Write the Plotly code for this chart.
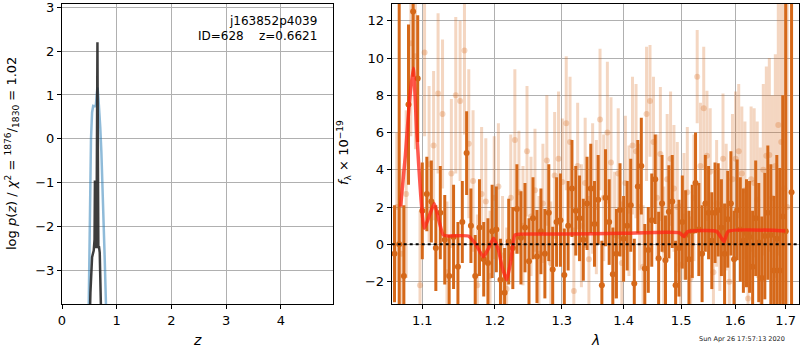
import plotly.graph_objects as go

# ---------------- left panel: log p(z) ----------------
pz_blue_z = [0.47, 0.49, 0.51, 0.53, 0.55, 0.57, 0.60, 0.62, 0.635, 0.65, 0.665, 0.68, 0.70, 0.72, 0.74, 0.76, 0.78, 0.80, 0.83]
pz_blue_y = [-5.5, -3.8, -1.4, 0.0, 0.6, 0.75, 0.74, 0.78, 1.0, 1.17, 0.95, 0.7, 0.25, -0.3, -1.0, -1.8, -2.7, -3.6, -5.2]

pz_black_z = [0.49, 0.52, 0.55, 0.58, 0.595, 0.602, 0.61, 0.62, 0.63, 0.64, 0.648, 0.656, 0.665, 0.675, 0.69, 0.71, 0.73, 0.75]
pz_black_y = [-5.0, -3.5, -2.7, -2.55, -2.3, -0.95, -2.4, -1.5, -2.5, -0.5, 2.2, -0.3, -2.5, -2.45, -2.6, -3.3, -4.5, -6.0]

# ---------------- right panel: spectrum ----------------
dark_wave = [
    1.064, 1.070, 1.076, 1.082, 1.088, 1.094, 1.100, 1.106, 1.112, 1.118,
    1.124, 1.130, 1.136, 1.142, 1.148, 1.154, 1.160, 1.166, 1.172, 1.178,
    1.184, 1.190, 1.196, 1.202, 1.208, 1.214, 1.220, 1.226, 1.232, 1.238,
    1.244, 1.250, 1.256, 1.262, 1.268, 1.274, 1.280, 1.286, 1.292, 1.298,
    1.304, 1.310, 1.316, 1.322, 1.328, 1.334, 1.340, 1.346, 1.352, 1.358,
    1.364, 1.370, 1.376, 1.382, 1.388, 1.394, 1.400, 1.406, 1.412, 1.418,
    1.424, 1.430, 1.436, 1.442, 1.448, 1.454, 1.460, 1.466, 1.472, 1.478,
    1.484, 1.490, 1.496, 1.502, 1.508, 1.514, 1.520, 1.526, 1.532, 1.538,
    1.544, 1.550, 1.556, 1.562, 1.568, 1.574, 1.580, 1.586, 1.592, 1.598,
    1.604, 1.610, 1.616, 1.622, 1.628, 1.634, 1.640, 1.646, 1.652, 1.658,
    1.664, 1.670, 1.676, 1.682, 1.688, 1.694, 1.700, 1.712]
dark_flux = [
    -0.5, 0.0, -1.7, 7.5, 12.5, 8.9, 1.8, 2.7, 2.3, -0.2,
    1.7, 0.25, -1.7, 0.4, -1.2, 1.2, 4.9, 1.0, -1.7, 0.9,
    -0.8, -1.0, 0.7, 0.8, -1.9, -2.6, 0.15, -0.2, 1.9, 0.35,
    0.9, -0.9, 1.4, -0.65, 0.7, -0.5, 1.7, -1.35, 1.2, 1.3,
    -1.65, 1.0, 3.0, 1.8, 1.4, 0.25, 2.2, 3.0, 1.1, 2.4,
    -2.2, 2.5, 1.2, -1.6, -0.5, 1.85, 0.3, 1.0, 2.1, -2.1,
    3.1, 4.2, -1.3, -0.3, 1.3, 3.5, -0.75, 2.2, -0.85, 1.75,
    2.3, -2.2, -0.2, 1.2, 0.5, -0.8, 0.7, 3.3, 0.8, -0.5,
    2.2, 1.7, 0.2, 1.7, 1.85, 0.9, -0.5, 1.35, 2.2, -0.8,
    1.85, 0.8, 0.2, 0.6, 0.4, -1.2, 1.4, 0.1, -1.8, 0.45,
    1.7, 0.5, -1.4, 0.3, -1.4, 1.5, 0.7, 2.8]
dark_err = [
    2.6, 20, 3.8, 4.3, 3.5, 3.4, 2.6, 2.0, 2.2, 2.3,
    2.5, 2.4, 2.2, 2.8, 2.4, 2.2, 2.25, 2.0, 2.2, 2.6,
    2.0, 2.4, 2.5, 2.3, 2.2, 2.4, 2.3, 2.2, 2.4, 2.5,
    2.4, 2.3, 2.2, 2.5, 2.3, 2.4, 2.6, 2.3, 2.4, 2.5,
    2.5, 2.4, 2.6, 2.4, 2.3, 2.2, 2.5, 2.4, 2.3, 2.4,
    2.4, 2.6, 2.3, 2.5, 2.4, 2.5, 2.3, 2.4, 2.5, 2.4,
    2.5, 2.6, 2.4, 2.3, 2.5, 2.4, 2.5, 2.6, 2.4, 2.5,
    2.5, 2.4, 2.6, 2.5, 2.4, 2.6, 2.5, 2.7, 2.5, 2.6,
    2.6, 2.5, 2.6, 2.7, 2.5, 2.6, 2.7, 2.6, 2.8, 2.6,
    2.7, 2.8, 2.8, 2.9, 3.0, 3.0, 3.1, 3.2, 3.3, 3.4,
    3.6, 3.8, 4.0, 4.5, 5.5, 6.5, 20, 20]

light_wave = [
    1.067, 1.073, 1.079, 1.085, 1.091, 1.097, 1.103, 1.109, 1.115, 1.121,
    1.127, 1.133, 1.139, 1.145, 1.151, 1.157, 1.163, 1.169, 1.175, 1.181,
    1.187, 1.193, 1.199, 1.205, 1.211, 1.217, 1.223, 1.229, 1.235, 1.241,
    1.247, 1.253, 1.259, 1.265, 1.271, 1.277, 1.283, 1.289, 1.295, 1.301,
    1.307, 1.313, 1.319, 1.325, 1.331, 1.337, 1.343, 1.349, 1.355, 1.361,
    1.367, 1.373, 1.379, 1.385, 1.391, 1.397, 1.403, 1.409, 1.415, 1.421,
    1.427, 1.433, 1.439, 1.445, 1.451, 1.457, 1.463, 1.469, 1.475, 1.481,
    1.487, 1.493, 1.499, 1.505, 1.511, 1.517, 1.523, 1.529, 1.535, 1.541,
    1.547, 1.553, 1.559, 1.565, 1.571, 1.577, 1.583, 1.589, 1.595, 1.601,
    1.607, 1.613, 1.619, 1.625, 1.631, 1.637, 1.643, 1.649, 1.655, 1.661,
    1.667, 1.673, 1.679, 1.685, 1.691, 1.697, 1.703]
light_flux = [
    2.0, -0.5, 2.7, 10.8, 10.1, -2.2, 10.3, 4.3, 5.3, 8.1,
    7.0, -1.5, 3.8, 8.0, 7.7, 10.4, 5.4, 3.4, -2.2, 2.7,
    2.3, -1.7, 2.5, 3.1, -0.6, -2.4, 2.5, 5.6, 2.8, 1.0,
    5.0, 1.5, 2.9, -0.5, 2.2, 4.5, -1.0, 3.7, 4.6, 3.35,
    6.5, 5.5, -2.5, 4.2, 1.0, 3.3, -0.8, 3.0, 2.0, 6.7,
    2.5, 6.0, 4.4, 0.5, 3.8, -1.0, 3.3, 1.8, 5.3, 5.0,
    2.0, -1.2, 7.0, 7.7, 5.5, 2.5, 4.85, -0.3, 3.5, 4.6,
    3.0, 2.0, -1.1, 1.5, 2.8, -1.8, 2.5, 9.0, 4.2, 7.3,
    4.75, 3.9, -1.5, 2.2, 0.8, 4.6, 2.0, -2.0, 3.5, 4.6,
    5.0, 3.8, 2.9, -2.9, 3.5, 3.3, 2.4, 0.8, 4.0, 4.75,
    4.8, 2.5, 4.2, 6.4, 5.5, 3.0, 2.0]
light_err = [
    4.0, 4.5, 4.5, 5.0, 5.0, 4.0, 4.5, 4.2, 4.0, 4.3,
    4.0, 3.8, 4.0, 4.2, 4.3, 4.5, 4.0, 3.8, 3.8, 3.6,
    3.4, 3.5, 3.3, 3.4, 3.2, 3.3, 3.4, 3.8, 3.3, 3.2,
    3.5, 3.2, 3.3, 3.1, 3.2, 3.5, 3.3, 3.4, 3.6, 3.4,
    3.6, 3.5, 3.4, 3.4, 3.3, 3.5, 3.4, 3.5, 3.6, 3.8,
    3.4, 3.8, 3.5, 3.4, 3.5, 3.3, 3.6, 3.5, 3.7, 3.6,
    3.4, 3.3, 3.6, 3.0, 3.5, 3.4, 3.6, 3.4, 3.5, 3.6,
    3.4, 3.5, 3.3, 3.4, 3.5, 3.3, 3.4, 2.5, 3.4, 3.3,
    3.5, 3.4, 3.3, 3.4, 3.3, 3.5, 3.4, 3.5, 3.5, 3.6,
    3.6, 3.6, 3.7, 3.8, 3.9, 4.0, 4.2, 4.4, 4.6, 4.8,
    5.2, 5.5, 6.0, 7.0, 8.5, 11, 12]

model_wave = [1.0718, 1.078, 1.083, 1.0882, 1.093, 1.098, 1.1026, 1.109, 1.1159, 1.122, 1.128, 1.135,
              1.1624, 1.172, 1.1834, 1.191, 1.198, 1.205, 1.211, 1.217, 1.223, 1.229, 1.236, 1.30,
              1.40, 1.497, 1.5048, 1.512, 1.5648, 1.5788, 1.5868, 1.6996]
model_flux = [2.03, 4.8, 7.6, 9.45, 5.8, 2.6, 0.86, 1.5, 2.2, 1.3, 0.5, 0.45,
              0.45, 0.05, -0.66, -0.2, 0.33, -0.3, -1.3, -1.9, -0.9, 0.5, 0.55, 0.55,
              0.6, 0.62, 0.42, 0.68, 0.7, 0.15, 0.7, 0.72]

zero_wave = [1.0604, 1.7275]
zero_flux = [0, 0]

left_xticks = [0, 1, 2, 3, 4]
left_yticks = [-3, -2, -1, 0, 1, 2, 3]
right_xticks = [1.1, 1.2, 1.3, 1.4, 1.5, 1.6, 1.7]
right_xlabels = ["1.1", "1.2", "1.3", "1.4", "1.5", "1.6", "1.7"]
right_yticks = [-2, 0, 2, 4, 6, 8, 10, 12]

FONT = "DejaVu Sans"
ORANGE = "rgb(213,104,25)"
ORANGE_LIGHT = "rgba(213,104,25,0.27)"

fig = go.Figure()

fig.add_trace(go.Scatter(x=pz_blue_z, y=pz_blue_y, mode="lines",
                         line=dict(color="rgba(31,119,180,0.5)", width=2.5),
                         xaxis="x", yaxis="y", showlegend=False))
fig.add_trace(go.Scatter(x=pz_black_z, y=pz_black_y, mode="lines",
                         line=dict(color="rgba(40,40,40,0.9)", width=2.5),
                         xaxis="x", yaxis="y", showlegend=False))

fig.add_trace(go.Scatter(x=light_wave, y=light_flux, mode="markers",
                         marker=dict(size=6, color=ORANGE_LIGHT, line=dict(width=0)),
                         error_y=dict(type="data", array=light_err, thickness=3, width=0, color=ORANGE_LIGHT),
                         xaxis="x2", yaxis="y2", showlegend=False))
fig.add_trace(go.Scatter(x=dark_wave, y=dark_flux, mode="markers",
                         marker=dict(size=6, color=ORANGE, line=dict(width=0)),
                         error_y=dict(type="data", array=dark_err, thickness=3, width=0, color=ORANGE),
                         xaxis="x2", yaxis="y2", showlegend=False))
fig.add_trace(go.Scatter(x=model_wave, y=model_flux, mode="lines",
                         line=dict(color="rgba(255,35,20,0.75)", width=3.5, shape="spline", smoothing=0.5),
                         xaxis="x2", yaxis="y2", showlegend=False))
fig.add_trace(go.Scatter(x=zero_wave, y=zero_flux, mode="lines",
                         line=dict(color="black", width=2, dash="dot"),
                         xaxis="x2", yaxis="y2", showlegend=False))

axis_common = dict(showline=True, linecolor="black", linewidth=1, mirror=True,
                   ticks="outside", ticklen=4, tickcolor="black",
                   showgrid=True, gridcolor="#b0b0b0", gridwidth=1, zeroline=False,
                   ticklabeloverflow="allow",
                   tickfont=dict(family=FONT, size=13, color="black"))

L = 62
W = 737
H = 300
T = 4

def px(x):
    return (x - L) / W

def py(y):
    return (T + H - y) / H

fig.update_layout(
    width=800, height=350,
    margin=dict(l=L, r=800 - L - W, t=T, b=350 - T - H),
    paper_bgcolor="white", plot_bgcolor="white",
    font=dict(family=FONT, color="black"),
    xaxis=dict(domain=[0, px(333.3)], range=[0, 4.96], tickvals=left_xticks, anchor="y", **axis_common),
    yaxis=dict(domain=[0, 1], range=[-3.77, 3.075], tickvals=left_yticks, anchor="x", **axis_common),
    xaxis2=dict(domain=[px(391.7), 1], type="log", range=[0.02548, 0.23737],
                tickvals=right_xticks, ticktext=right_xlabels, anchor="y2", **axis_common),
    yaxis2=dict(domain=[0, 1], range=[-3.2, 12.9], tickvals=right_yticks, anchor="x2", **axis_common),
)

ann = [
    dict(x=px(319), y=py(21), text="j163852p4039", xanchor="right", yanchor="middle", font=dict(size=12)),
    dict(x=px(319), y=py(36), text="ID=628&nbsp;&nbsp;&nbsp;&nbsp;z=0.6621", xanchor="right", yanchor="middle", font=dict(size=12)),
    dict(x=px(197), y=py(340), text="<i>z</i>", xanchor="center", yanchor="middle", font=dict(size=14)),
    dict(x=px(595), y=py(340), text="<i>λ</i>", xanchor="center", yanchor="middle", font=dict(size=14)),
    dict(x=px(12), y=py(154), textangle=-90, xanchor="center", yanchor="middle", font=dict(size=13),
         text="log <i>p</i>(<i>z</i>) / <i>χ</i><sup>2</sup> = <sup>1876</sup>/<sub>1830</sub> = 1.02"),
    dict(x=px(344), y=py(153), textangle=-90, xanchor="center", yanchor="middle", font=dict(size=13),
         text="<i>f</i><sub>λ</sub> × 10<sup>−19</sup>"),
    dict(x=px(742), y=py(339), text="Sun Apr 26 17:57:13 2020", xanchor="center", yanchor="middle",
         font=dict(size=6.5, color="#222")),
]
for a in ann:
    a.update(xref="paper", yref="paper", showarrow=False)
fig.update_layout(annotations=ann)

fig.write_html("out.html", config={"displayModeBar": False},
               post_script="document.body.style.margin='0px';document.body.style.padding='0px';")
